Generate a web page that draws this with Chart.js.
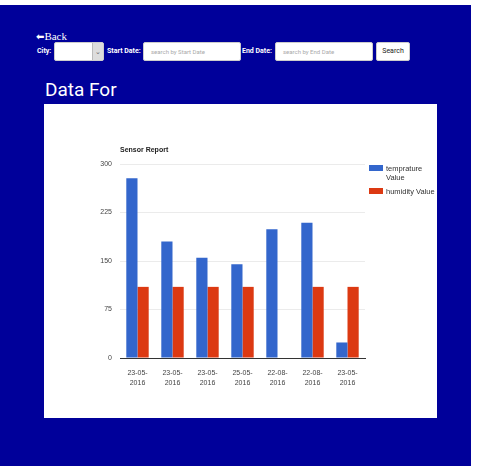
<!DOCTYPE html>
<html>
<head>
<meta charset="utf-8">
<script src="https://cdn.jsdelivr.net/npm/chart.js@4"></script>
<style>
  body { margin: 0; background: #fff; font-family: "Liberation Sans", Arial, sans-serif; }
  #page { position: absolute; left: 0; top: 5px; width: 471px; height: 461px; background: #00009a; }
  .abs { position: absolute; }
  .lbl { color: #fff; font-size: 7px; font-weight: bold; font-family: Roboto, "Liberation Sans", sans-serif; line-height: 19px; }
  .box { background: #fff; border-radius: 2px; height: 19px; box-sizing: border-box; border: 1px solid #ccc; }
  .ph { color: #aaa; font-size: 6px; line-height: 17px; padding-left: 7px; font-family: Roboto, sans-serif; }
  #panel { position: absolute; left: 44px; top: 99px; width: 393px; height: 314px; background: #fff; }
  #legend { position: absolute; left: 325px; top: 60px; font-size: 7.5px; line-height: 9px; color: #333; font-family: Arial, "Liberation Sans", sans-serif; }
  .li { display: flex; align-items: flex-start; margin-bottom: 5px; }
  .sw { width: 14px; height: 6px; margin-right: 3px; margin-top: 1px; }
</style>
</head>
<body>
<div id="page">
  <div class="abs" style="left:36px;top:25px;color:#fff;font-family:'Liberation Serif',serif;font-size:11px;"><span style="font-family:'DejaVu Sans';font-size:10px;font-weight:bold;">&#x2B05;</span>Back</div>
  <div class="abs lbl" style="left:37px;top:37px;">City:</div>
  <div class="abs box" style="left:54px;top:37px;width:50px;"><div style="position:absolute;right:0;top:0;width:10px;height:17px;background:#ddd;border-left:1px solid #bbb;color:#666;font-size:7px;line-height:17px;text-align:center;">&#x2304;</div></div>
  <div class="abs lbl" style="left:107px;top:37px;">Start Date:</div>
  <div class="abs box ph" style="left:143px;top:37px;width:98px;">search by Start Date</div>
  <div class="abs lbl" style="left:242px;top:37px;">End Date:</div>
  <div class="abs box ph" style="left:275px;top:37px;width:98px;">search by End Date</div>
  <div class="abs box" style="left:376px;top:37px;width:34px;font-size:7px;color:#222;line-height:17px;text-align:center;font-family:Roboto,sans-serif;">Search</div>
  <div class="abs" style="left:45px;top:73px;color:#fff;font-size:19px;font-family:Roboto,'Liberation Sans',sans-serif;">Data For</div>
  <div id="panel">
    <canvas id="chart" width="393" height="314"></canvas>
    <div id="legend"></div>
  </div>
</div>
<script>
const chartTitle = 'Sensor Report';
const categories = [
  ['23-05-', '2016'], ['23-05-', '2016'], ['23-05-', '2016'], ['25-05-', '2016'],
  ['22-08-', '2016'], ['22-08-', '2016'], ['23-05-', '2016']
];
const tempValues = [278, 180, 155, 145, 199, 209, 24];
const humidityValues = [110, 110, 110, 110, null, 110, 110];
const yTicks = [0, 75, 150, 225, 300];
const seriesNames = [['temprature', 'Value'], ['humidity Value']];
const seriesColors = ['#3366cc', '#dc3912'];

const titlePlugin = {
  id: 'sideTitle',
  afterDraw(chart) {
    const ctx = chart.ctx;
    ctx.save();
    ctx.font = 'bold 7px Arial, "Liberation Sans"';
    ctx.fillStyle = '#222';
    ctx.textBaseline = 'middle';
    ctx.fillText(chartTitle, chart.chartArea.left, 46);
    ctx.restore();
  }
};

const chart = new Chart(document.getElementById('chart'), {
  type: 'bar',
  data: {
    labels: categories,
    datasets: [
      { label: seriesNames[0].join(' '), data: tempValues, backgroundColor: seriesColors[0] },
      { label: seriesNames[1].join(' '), data: humidityValues, backgroundColor: seriesColors[1] }
    ]
  },
  options: {
    responsive: false,
    animation: false,
    categoryPercentage: 0.64,
    barPercentage: 1,
    layout: { padding: { left: 46, right: 72, top: 60, bottom: 30 } },
    plugins: { legend: { display: false }, tooltip: { enabled: false } },
    scales: {
      x: {
        grid: { display: false },
        border: { color: '#333' },
        ticks: { color: '#444', font: { size: 7, family: 'Arial', lineHeight: 1.4 }, maxRotation: 0, padding: 2 },
        afterFit: axis => { axis.height = 30; }
      },
      y: {
        min: 0,
        max: 300,
        afterBuildTicks: axis => { axis.ticks = yTicks.map(v => ({ value: v })); },
        grid: { color: ctx => ctx.tick && ctx.tick.value === 0 ? '#333' : '#ebebeb', drawTicks: false },
        border: { display: false },
        ticks: { color: '#444', font: { size: 7, family: 'Arial' }, padding: 8 },
        afterFit: axis => { axis.width = 30; }
      }
    }
  },
  plugins: [titlePlugin]
});

const legend = document.getElementById('legend');
seriesNames.forEach((name, i) => {
  const row = document.createElement('div');
  row.className = 'li';
  row.innerHTML = '<div class="sw" style="background:' + seriesColors[i] + '"></div><div>' + name.join('<br>') + '</div>';
  legend.appendChild(row);
});
</script>
</body>
</html>
